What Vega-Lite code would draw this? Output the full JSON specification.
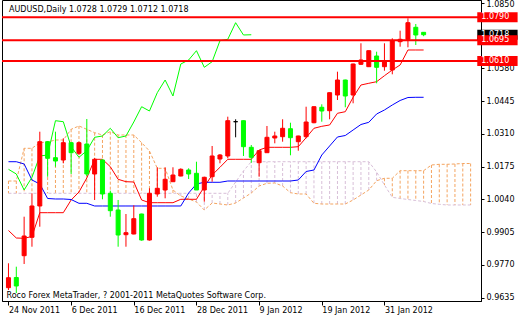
{
 "$schema": "https://vega.github.io/schema/vega-lite/v6.json",
 "width": 479, "height": 301,
 "autosize": {"type": "none"},
 "padding": {"left": 2, "top": 0, "right": 39, "bottom": 19},
 "background": "white",
 "config": {"view": {"stroke": "black", "strokeWidth": 1}, "font": "DejaVu Sans", "axis": {"grid": false, "labelOverlap": false}},
 "title": {"text": "AUDUSD,Daily  1.0728 1.0729 1.0712 1.0718", "anchor": "start", "frame": "group", "offset": -14, "fontSize": 8, "fontWeight": "normal", "color": "black", "dx": 7, "font": "DejaVu Sans"},
 "datasets": {
  "bars": [
   {"i":0,"o":0.96762,"h":0.97767,"l":0.96667,"c":0.97174,"tk":0.99118,"kj":1.01951,"ck":1.01638,"sa":1.01156,"sb":1.0065},
   {"i":1,"o":0.97182,"h":0.97627,"l":0.96543,"c":0.96832,"tk":0.98809,"kj":1.01951,"ck":1.01445,"sa":1.01156,"sb":1.0065},
   {"i":2,"o":0.9808,"h":0.99686,"l":0.97738,"c":0.98891,"tk":0.98796,"kj":1.01857,"ck":1.00786,"sa":1.02503,"sb":1.0065},
   {"i":3,"o":0.98838,"h":1.0065,"l":0.9845,"c":1.00127,"tk":0.98871,"kj":1.01198,"ck":1.01309,"sa":1.02503,"sb":1.0065},
   {"i":4,"o":1.00127,"h":1.03187,"l":0.99274,"c":1.02775,"tk":0.99851,"kj":1.01033,"ck":1.02186,"sa":1.02734,"sb":1.0065},
   {"i":5,"o":1.02775,"h":1.02804,"l":1.01333,"c":1.02091,"tk":0.99851,"kj":1.00436,"ck":1.02227,"sa":1.02763,"sb":1.0065},
   {"i":6,"o":1.02116,"h":1.03187,"l":1.01745,"c":1.0198,"tk":0.99851,"kj":1.00415,"ck":1.0364,"sa":1.02845,"sb":1.0065},
   {"i":7,"o":1.02021,"h":1.02915,"l":1.01885,"c":1.02734,"tk":0.99851,"kj":1.00415,"ck":1.03599,"sa":1.02845,"sb":1.0065},
   {"i":8,"o":1.02734,"h":1.0276,"l":1.01445,"c":1.02322,"tk":1.00374,"kj":1.00394,"ck":1.02569,"sa":1.03286,"sb":1.0065},
   {"i":9,"o":1.02297,"h":1.02775,"l":1.02227,"c":1.02734,"tk":1.00703,"kj":1.00238,"ck":1.02133,"sa":1.03422,"sb":1.0065},
   {"i":10,"o":1.0268,"h":1.0371,"l":1.01362,"c":1.01445,"tk":1.0128,"kj":1.00238,"ck":1.02404,"sa":1.03286,"sb":1.0065},
   {"i":11,"o":1.01445,"h":1.02104,"l":1.00374,"c":1.0205,"tk":1.0205,"kj":1.00127,"ck":1.02956,"sa":1.03146,"sb":1.0065},
   {"i":12,"o":1.02021,"h":1.0204,"l":1.00403,"c":1.00621,"tk":1.0205,"kj":1.00127,"ck":1.0301,"sa":1.03051,"sb":1.0065},
   {"i":13,"o":1.0065,"h":1.00757,"l":0.99686,"c":0.99933,"tk":1.01745,"kj":1.00127,"ck":1.03327,"sa":1.03187,"sb":1.0065},
   {"i":14,"o":0.99962,"h":1.00374,"l":0.9845,"c":0.98932,"tk":1.01226,"kj":1.00127,"ck":1.0294,"sa":1.03051,"sb":1.0065},
   {"i":15,"o":0.98945,"h":0.99797,"l":0.9845,"c":0.99027,"tk":1.01128,"kj":1.00127,"ck":1.0301,"sa":1.03051,"sb":1.0065},
   {"i":16,"o":0.98973,"h":1.00156,"l":0.9896,"c":0.99604,"tk":1.01115,"kj":1.00127,"ck":1.03586,"sa":1.03051,"sb":1.0065},
   {"i":17,"o":0.99797,"h":0.9981,"l":0.98697,"c":0.98726,"tk":1.00374,"kj":1.00127,"ck":1.04216,"sa":1.02734,"sb":1.0065},
   {"i":18,"o":0.98726,"h":1.00856,"l":0.987,"c":1.0065,"tk":1.00263,"kj":1.00127,"ck":1.04039,"sa":1.02392,"sb":1.0065},
   {"i":19,"o":1.00621,"h":1.01721,"l":1.0051,"c":1.00856,"tk":1.00263,"kj":1.00127,"ck":1.04793,"sa":1.01679,"sb":1.0065},
   {"i":20,"o":1.00786,"h":1.01721,"l":1.00444,"c":1.01226,"tk":1.00263,"kj":1.00127,"ck":1.05316,"sa":1.01679,"sb":1.0065},
   {"i":21,"o":1.01127,"h":1.01721,"l":1.0112,"c":1.01403,"tk":1.00263,"kj":1.00127,"ck":1.04657,"sa":1.00786,"sb":1.0065},
   {"i":22,"o":1.01362,"h":1.01679,"l":1.0135,"c":1.01638,"tk":1.00403,"kj":1.00127,"ck":1.05975,"sa":1.00539,"sb":1.0065},
   {"i":23,"o":1.01609,"h":1.01679,"l":1.01239,"c":1.01445,"tk":1.00403,"kj":1.00662,"ck":1.0614,"sa":1.00415,"sb":1.0065},
   {"i":24,"o":1.01473,"h":1.01951,"l":1.00786,"c":1.00786,"tk":1.00403,"kj":1.01033,"ck":1.06523,"sa":1.00291,"sb":1.0065},
   {"i":25,"o":1.00786,"h":1.01333,"l":1.00304,"c":1.01309,"tk":1.00922,"kj":1.01103,"ck":1.05839,"sa":0.99962,"sb":1.0065},
   {"i":26,"o":1.01333,"h":1.02598,"l":1.01127,"c":1.02186,"tk":1.01403,"kj":1.01103,"ck":1.0607,"sa":1.0025,"sb":1.0065},
   {"i":27,"o":1.02062,"h":1.02268,"l":1.01885,"c":1.02227,"tk":1.01721,"kj":1.01103,"ck":1.06935,"sa":1.00209,"sb":1.0065},
   {"i":28,"o":1.02186,"h":1.03805,"l":1.02091,"c":1.0364,"tk":1.0205,"kj":1.01156,"ck":1.06992,"sa":1.00168,"sb":1.0065},
   {"i":29,"o":1.03599,"h":1.03698,"l":1.02956,"c":1.03599,"tk":1.0205,"kj":1.01156,"ck":1.07676,"sa":1.0025,"sb":1.01115},
   {"i":30,"o":1.0364,"h":1.0365,"l":1.02186,"c":1.02569,"tk":1.0205,"kj":1.01156,"ck":1.0717,"sa":1.00456,"sb":1.01568},
   {"i":31,"o":1.02544,"h":1.02639,"l":1.0191,"c":1.02133,"tk":1.0205,"kj":1.01156,"ck":1.0718,"sa":1.00662,"sb":1.01951},
   {"i":32,"o":1.0191,"h":1.02433,"l":1.01333,"c":1.02404,"tk":1.02433,"kj":1.01156,"sa":1.0095,"sb":1.01951},
   {"i":33,"o":1.02322,"h":1.03422,"l":1.0232,"c":1.02956,"tk":1.02544,"kj":1.01156,"sa":1.01062,"sb":1.01951},
   {"i":34,"o":1.02927,"h":1.03187,"l":1.02709,"c":1.0301,"tk":1.02544,"kj":1.01156,"sa":1.01074,"sb":1.01951},
   {"i":35,"o":1.02981,"h":1.03698,"l":1.02775,"c":1.03327,"tk":1.02544,"kj":1.01156,"sa":1.0095,"sb":1.01951},
   {"i":36,"o":1.0331,"h":1.03557,"l":1.02215,"c":1.0294,"tk":1.02544,"kj":1.01156,"sa":1.00675,"sb":1.01951},
   {"i":37,"o":1.02775,"h":1.0302,"l":1.02404,"c":1.0301,"tk":1.02569,"kj":1.01198,"sa":1.00621,"sb":1.01951},
   {"i":38,"o":1.02981,"h":1.04216,"l":1.02915,"c":1.03586,"tk":1.0294,"kj":1.01548,"sa":1.00621,"sb":1.01951},
   {"i":39,"o":1.03557,"h":1.0423,"l":1.03533,"c":1.04216,"tk":1.03327,"kj":1.01609,"sa":1.00238,"sb":1.01951},
   {"i":40,"o":1.04192,"h":1.04315,"l":1.03599,"c":1.04039,"tk":1.03409,"kj":1.02227,"sa":1.00209,"sb":1.01951},
   {"i":41,"o":1.04052,"h":1.048,"l":1.03698,"c":1.04793,"tk":1.03463,"kj":1.02598,"sa":1.00209,"sb":1.01951},
   {"i":42,"o":1.04698,"h":1.05658,"l":1.04492,"c":1.05316,"tk":1.03945,"kj":1.02969,"sa":1.00209,"sb":1.01951},
   {"i":43,"o":1.05316,"h":1.0533,"l":1.04192,"c":1.04657,"tk":1.04011,"kj":1.0303,"sa":1.00209,"sb":1.01951},
   {"i":44,"o":1.04698,"h":1.0599,"l":1.04357,"c":1.05975,"tk":1.04604,"kj":1.03257,"sa":1.00374,"sb":1.01951},
   {"i":45,"o":1.05963,"h":1.06828,"l":1.05934,"c":1.0614,"tk":1.0511,"kj":1.03483,"sa":1.0058,"sb":1.01951},
   {"i":46,"o":1.05864,"h":1.0653,"l":1.0585,"c":1.06523,"tk":1.0518,"kj":1.03574,"sa":1.00786,"sb":1.01951},
   {"i":47,"o":1.06305,"h":1.06482,"l":1.0518,"c":1.05839,"tk":1.05246,"kj":1.03916,"sa":1.01169,"sb":1.01527},
   {"i":48,"o":1.05864,"h":1.06828,"l":1.05699,"c":1.0607,"tk":1.05493,"kj":1.04081,"sa":1.01268,"sb":1.00992},
   {"i":49,"o":1.05728,"h":1.07034,"l":1.05551,"c":1.06935,"tk":1.05728,"kj":1.04286,"sa":1.01268,"sb":1.00485},
   {"i":50,"o":1.06894,"h":1.07347,"l":1.06688,"c":1.06992,"tk":1.05934,"kj":1.04472,"sa":1.01581,"sb":1.00436},
   {"i":51,"o":1.06992,"h":1.07857,"l":1.06663,"c":1.07676,"tk":1.06552,"kj":1.04595,"sa":1.01581,"sb":1.00394},
   {"i":52,"o":1.07487,"h":1.07623,"l":1.06758,"c":1.0717,"tk":1.06552,"kj":1.04604,"sa":1.01581,"sb":1.00353},
   {"i":53,"o":1.0728,"h":1.0729,"l":1.0712,"c":1.0718,"tk":1.06552,"kj":1.04604,"sa":1.01581,"sb":1.00312},
   {"i":54,"sa":1.01815,"sb":1.0023},
   {"i":55,"sa":1.01844,"sb":1.00197},
   {"i":56,"sa":1.01844,"sb":1.00168},
   {"i":57,"sa":1.01857,"sb":1.00168},
   {"i":58,"sa":1.01877,"sb":1.00168},
   {"i":59,"sa":1.01877,"sb":1.00168}
  ],
  "levels": [
   {"p":1.079,"label":"1.0790"},
   {"p":1.0695,"label":"1.0695"},
   {"p":1.061,"label":"1.0610"}
  ],
  "price": [
   {"p":1.0718,"label":"1.0718"}
  ]
 },
 "encoding": {
  "y": {"field": "o", "type": "quantitative", "scale": {"domain": [0.96214, 1.08611], "nice": false, "zero": false},
   "axis": {"orient": "right", "values": [0.9635, 0.977, 0.9905, 1.004, 1.0175, 1.031, 1.0445, 1.058, 1.0715, 1.085], "format": ".4f",
    "labelAlign": "left", "labelBaseline": "middle", "labelPadding": 2, "labelFlush": false, "labelOverlap": false, "labelBound": false, "labelSeparation": 0,
    "labelOffset": {"condition": {"test": "datum.value > 1.08", "value": 2}, "value": 0},
    "labelFont": "DejaVu Sans", "labelFontSize": 8, "labelColor": "black",
    "tickSize": 3, "tickColor": "black", "domainColor": "black", "title": null}}
 },
 "layer": [
  {"data": {"name": "bars"},
   "encoding": {
    "x": {"field": "i", "type": "quantitative",
     "scale": {"domain": [-0.1875, 59.6875], "nice": false, "zero": false},
     "axis": {"values": [0, 8, 16, 24, 32, 40, 48],
      "labelExpr": "['24 Nov 2011','6 Dec 2011','16 Dec 2011','28 Dec 2011','9 Jan 2012','19 Jan 2012','31 Jan 2012'][round(datum.value/8)]",
      "labelAlign": "left", "labelPadding": 1, "labelFlush": false, "labelOverlap": false, "labelBound": false,
      "labelFont": "DejaVu Sans", "labelFontSize": 8, "labelColor": "black",
      "tickSize": 4, "tickColor": "black", "domainColor": "black",
      "title": "Roco Forex MetaTrader, ? 2001-2011 MetaQuotes Software Corp.",
      "titleAnchor": "start", "titleAlign": "left", "titleX": 4, "titleY": -6, "titleBaseline": "middle",
      "titleFont": "DejaVu Sans", "titleFontSize": 8, "titleFontWeight": "normal", "titleColor": "black"}}
   },
   "layer": [
    {"mark": {"type": "rule", "strokeDash": [3, 2], "strokeWidth": 1, "clip": true},
     "encoding": {
      "y": {"field": "sa"},
      "y2": {"field": "sb"},
      "color": {"condition": {"test": "datum.sa >= datum.sb", "value": "#F4A460"}, "value": "#D8BFD8"}
     }},
    {"mark": {"type": "line", "color": "#F4A460", "strokeDash": [3, 2], "strokeWidth": 1, "clip": true},
     "encoding": {"y": {"field": "sa"}}},
    {"mark": {"type": "line", "color": "#D8BFD8", "strokeDash": [3, 2], "strokeWidth": 1, "clip": true},
     "encoding": {"y": {"field": "sb"}}},
    {"mark": {"type": "line", "color": "#FF0000", "strokeWidth": 1, "clip": true},
     "encoding": {"y": {"field": "tk"}}},
    {"mark": {"type": "line", "color": "#0000FF", "strokeWidth": 1, "clip": true},
     "encoding": {"y": {"field": "kj"}}},
    {"mark": {"type": "line", "color": "#00FF00", "strokeWidth": 1, "clip": true},
     "encoding": {"y": {"field": "ck"}}},
    {"mark": {"type": "rule", "strokeWidth": 1, "clip": true},
     "encoding": {
      "y": {"field": "l"},
      "y2": {"field": "h"},
      "color": {"condition": [{"test": "datum.c > datum.o", "value": "#FF0000"}, {"test": "datum.c < datum.o", "value": "#00FF00"}], "value": "#000000"}
     }},
    {"mark": {"type": "bar", "width": 4, "strokeWidth": 1, "clip": true},
     "encoding": {
      "y": {"field": "o"},
      "y2": {"field": "c"},
      "fill": {"condition": [{"test": "datum.c > datum.o", "value": "#FF0000"}, {"test": "datum.c < datum.o", "value": "#00FF00"}], "value": "#000000"},
      "stroke": {"condition": [{"test": "datum.c > datum.o", "value": "#FF0000"}, {"test": "datum.c < datum.o", "value": "#00FF00"}], "value": "#000000"}
     }}
   ]},
  {"data": {"name": "levels"},
   "mark": {"type": "rule", "color": "#FF0000", "strokeWidth": 2},
   "encoding": {"y": {"field": "p"}}},
  {"data": {"name": "price"},
   "encoding": {
    "x": {"datum": 59.85, "type": "quantitative",
     "scale": {"domain": [-0.1875, 59.6875], "nice": false, "zero": false},
     "axis": {"values": [0, 8, 16, 24, 32, 40, 48],
      "labelExpr": "['24 Nov 2011','6 Dec 2011','16 Dec 2011','28 Dec 2011','9 Jan 2012','19 Jan 2012','31 Jan 2012'][round(datum.value/8)]",
      "labelAlign": "left", "labelPadding": 1, "labelFlush": false, "labelOverlap": false, "labelBound": false,
      "labelFont": "DejaVu Sans", "labelFontSize": 8, "labelColor": "black",
      "tickSize": 4, "tickColor": "black", "domainColor": "black",
      "title": "Roco Forex MetaTrader, ? 2001-2011 MetaQuotes Software Corp.",
      "titleAnchor": "start", "titleAlign": "left", "titleX": 4, "titleY": -6, "titleBaseline": "middle",
      "titleFont": "DejaVu Sans", "titleFontSize": 8, "titleFontWeight": "normal", "titleColor": "black"}},
    "y": {"field": "p"}
   },
   "layer": [
    {"mark": {"type": "rule", "strokeWidth": 10, "strokeCap": "butt", "color": "#000000", "clip": false},
     "encoding": {"x2": {"datum": 65}}},
    {"mark": {"type": "text", "align": "left", "baseline": "middle", "dx": 4, "color": "white", "font": "DejaVu Sans", "fontSize": 8, "clip": false},
     "encoding": {"text": {"field": "label"}}}
   ]},
  {"data": {"name": "levels"},
   "encoding": {
    "x": {"datum": 59.85, "type": "quantitative",
     "scale": {"domain": [-0.1875, 59.6875], "nice": false, "zero": false},
     "axis": {"values": [0, 8, 16, 24, 32, 40, 48],
      "labelExpr": "['24 Nov 2011','6 Dec 2011','16 Dec 2011','28 Dec 2011','9 Jan 2012','19 Jan 2012','31 Jan 2012'][round(datum.value/8)]",
      "labelAlign": "left", "labelPadding": 1, "labelFlush": false, "labelOverlap": false, "labelBound": false,
      "labelFont": "DejaVu Sans", "labelFontSize": 8, "labelColor": "black",
      "tickSize": 4, "tickColor": "black", "domainColor": "black",
      "title": "Roco Forex MetaTrader, ? 2001-2011 MetaQuotes Software Corp.",
      "titleAnchor": "start", "titleAlign": "left", "titleX": 4, "titleY": -6, "titleBaseline": "middle",
      "titleFont": "DejaVu Sans", "titleFontSize": 8, "titleFontWeight": "normal", "titleColor": "black"}},
    "y": {"field": "p"}
   },
   "layer": [
    {"mark": {"type": "rule", "strokeWidth": 10, "strokeCap": "butt", "color": "#FF0000", "clip": false},
     "encoding": {"x2": {"datum": 65}}},
    {"mark": {"type": "text", "align": "left", "baseline": "middle", "dx": 4, "color": "white", "font": "DejaVu Sans", "fontSize": 8, "clip": false},
     "encoding": {"text": {"field": "label"}}}
   ]}
 ]
}
